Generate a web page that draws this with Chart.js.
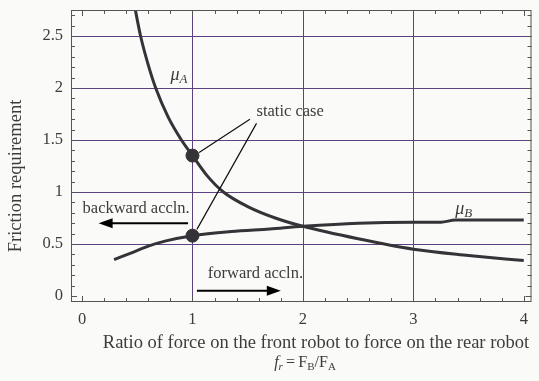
<!DOCTYPE html>
<html>
<head>
<meta charset="utf-8">
<script src="https://cdn.jsdelivr.net/npm/chart.js@4.4.1/dist/chart.umd.min.js"></script>
<style>
  html, body { margin: 0; padding: 0; background: #fafaf8; }
  #wrap { width: 539px; height: 381px; }
</style>
</head>
<body>
<div id="wrap"><canvas id="myChart"></canvas></div>
<script>
// force ratio f_r and friction requirement for each robot
const ratioA = [0.47, 0.53, 0.6, 0.667, 0.78, 0.9, 1.0, 1.13, 1.28, 1.5, 1.75, 2.0, 2.5, 3.0, 3.5, 4.0];
const muA = [2.82, 2.5, 2.22, 2.0, 1.72, 1.5, 1.35, 1.16, 1.0, 0.86, 0.75, 0.67, 0.55, 0.45, 0.39, 0.34];
const ratioB = [0.29, 0.46, 0.6, 0.76, 1.0, 1.35, 1.7, 2.0, 2.5, 3.0, 3.25, 3.38, 4.0];
const muB = [0.35, 0.42, 0.48, 0.53, 0.58, 0.62, 0.645, 0.67, 0.70, 0.71, 0.71, 0.73, 0.73];
const staticRatio = 1.0;

const xTicks = [0, 1, 2, 3, 4];
const yTicks = [0, 0.5, 1, 1.5, 2, 2.5];
const xGrid = [1, 2, 3];
const yGrid = [0.5, 1, 1.5, 2, 2.5];

const inkColor = '#333338';
const gridColor = '#5c4282';
const textColor = '#3c3c3c';
const serif = '"Liberation Serif", "Times New Roman", serif';

function toPoints(xs, ys) {
  return xs.map((x, i) => ({ x: x, y: ys[i] }));
}

const staticPoints = [
  { x: staticRatio, y: muA[ratioA.indexOf(staticRatio)] },
  { x: staticRatio, y: muB[ratioB.indexOf(staticRatio)] }
];

// grid lines on whole pixels so they keep their colour
const gridLines = {
  id: 'gridLines',
  beforeDatasetsDraw(chart) {
    const c = chart.ctx;
    const a = chart.chartArea;
    c.save();
    c.strokeStyle = gridColor;
    c.lineWidth = 1;
    c.beginPath();
    xGrid.forEach(v => {
      const x = Math.round(chart.scales.x.getPixelForValue(v)) + 0.5;
      c.moveTo(x, a.top); c.lineTo(x, a.bottom);
    });
    yGrid.forEach(v => {
      const y = Math.round(chart.scales.y.getPixelForValue(v)) + 0.5;
      c.moveTo(a.left, y); c.lineTo(a.right, y);
    });
    c.stroke();
    c.restore();
  }
};

// frame, minor ticks, labels and arrows drawn on top of the chart area
const decorations = {
  id: 'decorations',
  afterDatasetsDraw(chart) {
    const c = chart.ctx;
    const a = chart.chartArea;
    const xs = chart.scales.x, ys = chart.scales.y;
    const px = v => xs.getPixelForValue(v);
    const py = v => ys.getPixelForValue(v);
    c.save();

    // frame
    c.strokeStyle = '#555';
    c.lineWidth = 1;
    c.strokeRect(a.left + 0.5, a.top + 0.5, a.right - a.left - 1, a.bottom - a.top - 1);

    // inward ticks on all four sides
    c.beginPath();
    for (let i = 0; i <= 20; i++) {
      const x = Math.round(px(i * 0.2)) + 0.5;
      const len = (i % 5 === 0) ? 6 : 4;
      c.moveTo(x, a.bottom); c.lineTo(x, a.bottom - len);
      c.moveTo(x, a.top); c.lineTo(x, a.top + len);
    }
    for (let i = 0; i <= 27; i++) {
      const y = Math.round(py(i * 0.1)) + 0.5;
      const len = (i % 5 === 0) ? 6 : 4;
      c.moveTo(a.left, y); c.lineTo(a.left + len, y);
      c.moveTo(a.right, y); c.lineTo(a.right - len, y);
    }
    c.stroke();

    // leader lines to the static case points
    c.strokeStyle = '#111';
    c.lineWidth = 1.2;
    c.beginPath();
    c.moveTo(px(1.52), py(1.70)); c.lineTo(px(1.06), py(1.38));
    c.moveTo(px(1.58), py(1.66)); c.lineTo(px(1.04), py(0.64));
    c.stroke();

    c.fillStyle = textColor;
    c.font = '16.5px ' + serif;
    c.textBaseline = 'middle';
    c.textAlign = 'left';
    c.fillText('static case', px(1.58), py(1.77));

    // acceleration arrows
    function arrow(x0, x1, y) {
      const dir = Math.sign(x1 - x0);
      const yp = py(y);
      c.strokeStyle = '#000';
      c.fillStyle = '#000';
      c.lineWidth = 2;
      c.beginPath();
      c.moveTo(px(x0), yp); c.lineTo(px(x1) - dir * 12, yp);
      c.stroke();
      c.beginPath();
      c.moveTo(px(x1), yp);
      c.lineTo(px(x1) - dir * 14, yp - 5);
      c.lineTo(px(x1) - dir * 14, yp + 5);
      c.closePath();
      c.fill();
    }
    arrow(0.96, 0.15, 0.70);
    arrow(1.04, 1.80, 0.05);

    c.fillStyle = textColor;
    c.textAlign = 'center';
    c.fillText('backward accln.', px(0.49), py(0.84));
    c.fillText('forward accln.', px(1.57), py(0.21));

    // curve labels
    function muLabel(sub, x, y) {
      c.textAlign = 'left';
      c.font = 'italic 18px ' + serif;
      c.fillText('\u03bc', px(x), py(y));
      const w = c.measureText('\u03bc').width;
      c.font = 'italic 13px ' + serif;
      c.fillText(sub, px(x) + w, py(y) + 4);
    }
    muLabel('A', 0.80, 2.12);
    muLabel('B', 3.38, 0.83);

    // y axis title
    c.save();
    c.translate(16, 176);
    c.rotate(-Math.PI / 2);
    c.font = '18.5px ' + serif;
    c.textAlign = 'center';
    c.fillText('Friction requirement', 0, 0);
    c.restore();

    // x axis title, two lines
    c.textAlign = 'center';
    c.font = '18.5px ' + serif;
    c.fillText('Ratio of force on the front robot to force on the rear robot', 316, 343);

    const parts = [
      { t: 'f', f: 'italic 16px ', dy: 0 },
      { t: 'r', f: 'italic 11px ', dy: 4 },
      { t: '\u2009=\u2009F', f: '16px ', dy: 0 },
      { t: 'B', f: '11px ', dy: 4 },
      { t: '/F', f: '16px ', dy: 0 },
      { t: 'A', f: '11px ', dy: 4 }
    ];
    let total = 0;
    parts.forEach(p => { c.font = p.f + serif; p.w = c.measureText(p.t).width; total += p.w; });
    let x = 305 - total / 2;
    c.textAlign = 'left';
    parts.forEach(p => {
      c.font = p.f + serif;
      c.fillText(p.t, x, 363 + p.dy);
      x += p.w;
    });

    c.restore();
  }
};

var ctx = document.getElementById('myChart');
var myChart = new Chart(ctx, {
  type: 'scatter',
  data: {
    datasets: [
      {
        label: 'muA',
        data: toPoints(ratioA, muA),
        showLine: true,
        borderColor: inkColor,
        borderWidth: 3,
        pointRadius: 0,
        cubicInterpolationMode: 'monotone'
      },
      {
        label: 'muB',
        data: toPoints(ratioB, muB),
        showLine: true,
        borderColor: inkColor,
        borderWidth: 3,
        pointRadius: 0,
        cubicInterpolationMode: 'monotone'
      },
      {
        label: 'static case',
        data: staticPoints,
        showLine: false,
        pointRadius: 6.5,
        pointBackgroundColor: inkColor,
        pointBorderColor: inkColor
      }
    ]
  },
  options: {
    responsive: true,
    maintainAspectRatio: false,
    animation: false,
    layout: { padding: { top: 10, right: 1, left: 0, bottom: 0 } },
    plugins: {
      legend: { display: false },
      tooltip: { enabled: false }
    },
    scales: {
      x: {
        type: 'linear',
        min: -0.1,
        max: 4.07,
        afterBuildTicks: s => { s.ticks = xTicks.map(v => ({ value: v })); },
        afterFit: s => { s.height = 79; },
        border: { display: false },
        grid: { display: false },
        ticks: {
          padding: 0,
          color: textColor,
          font: { family: serif, size: 16.5 },
          callback: v => v
        }
      },
      y: {
        type: 'linear',
        min: -0.058,
        max: 2.75,
        afterBuildTicks: s => { s.ticks = yTicks.map(v => ({ value: v })); },
        afterFit: s => { s.width = 71; },
        border: { display: false },
        grid: { display: false },
        ticks: {
          padding: 0,
          color: textColor,
          font: { family: serif, size: 16.5 },
          callback: v => v
        }
      }
    }
  },
  plugins: [gridLines, decorations]
});
</script>
</body>
</html>
